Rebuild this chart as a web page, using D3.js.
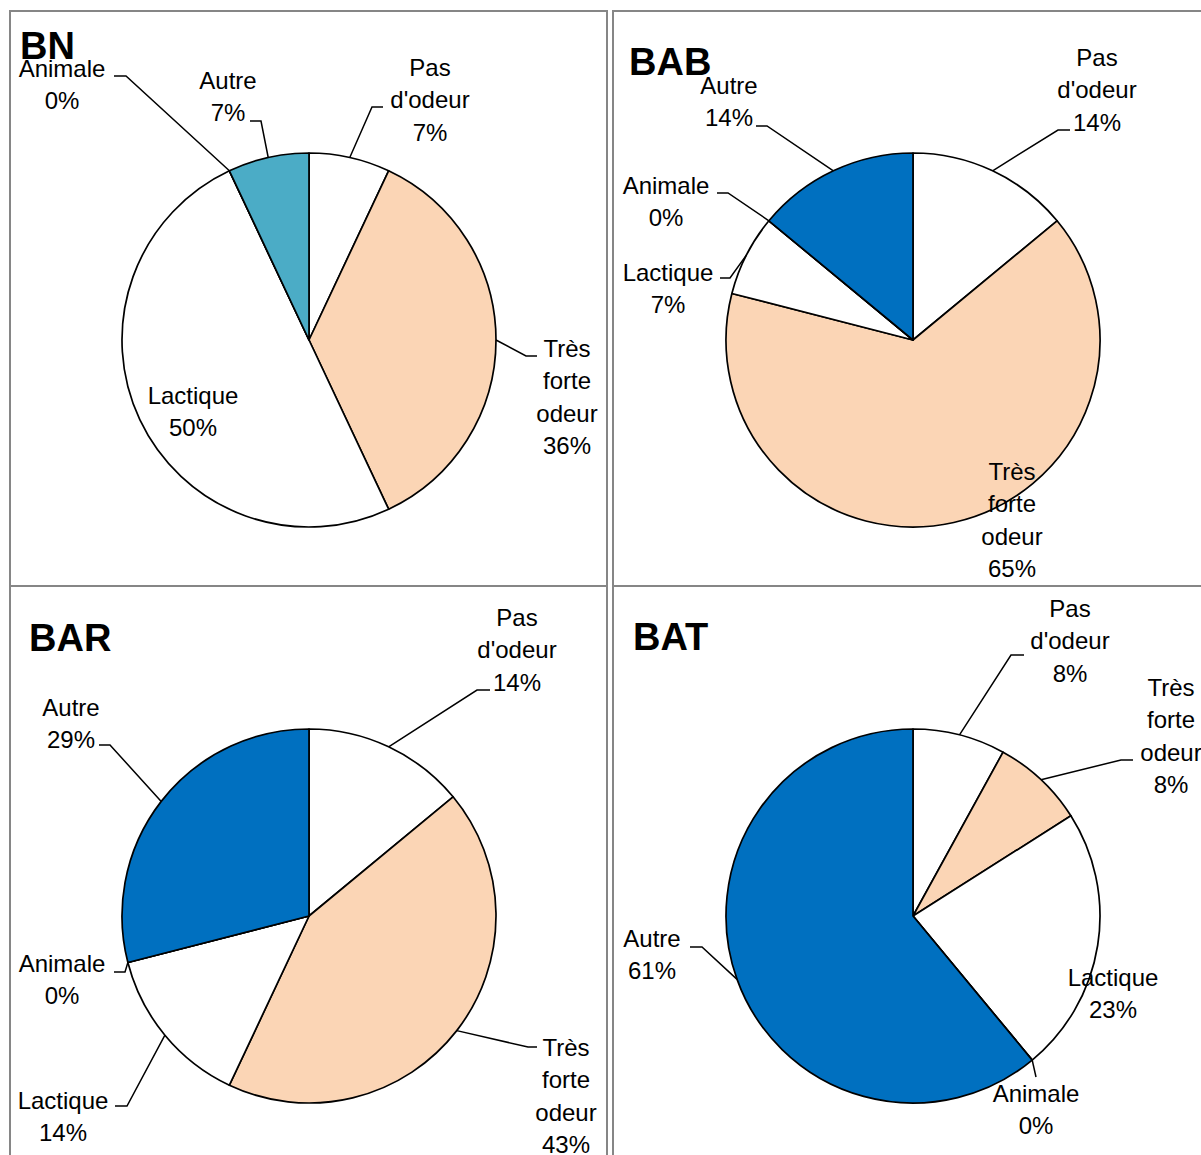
<!DOCTYPE html>
<html><head><meta charset="utf-8">
<script src="https://cdn.jsdelivr.net/npm/d3@7"></script>
<style>html,body{margin:0;padding:0;background:#fff;} svg{display:block;}</style>
</head><body>
<script>
// ---------- data ----------
const chartNames = ["BN", "BAB", "BAR", "BAT"];
const categories = ["Pas d'odeur", "Très forte odeur", "Lactique", "Animale", "Autre"];
const categoryLines = [["Pas", "d'odeur"], ["Très", "forte", "odeur"], ["Lactique"], ["Animale"], ["Autre"]];
const valuesBN  = [7, 36, 50, 0, 7];
const valuesBAB = [14, 65, 7, 0, 14];
const valuesBAR = [14, 43, 14, 0, 29];
const valuesBAT = [8, 8, 23, 0, 61];
const seriesValues = [valuesBN, valuesBAB, valuesBAR, valuesBAT];

// ---------- styles ----------
const baseColors = ["#FFFFFF", "#FBD5B5", "#FFFFFF", "#FFFFFF", null];
const autreColors = ["#4BACC6", "#0070C0", "#0070C0", "#0070C0"];

// ---------- layout (positions of panels, titles, label placements relative to pie centre) ----------
const R = 187;
const lineGap = 32.5;
const panels = [
  {cx: 309, cy: 340, rect: [10, 11, 597, 575], title: [20, 59]},
  {cx: 913, cy: 340, rect: [613, 11, 600, 575], title: [629, 75]},
  {cx: 309, cy: 916, rect: [10, 586, 597, 600], title: [29, 651]},
  {cx: 913, cy: 916, rect: [613, 586, 600, 600], title: [633, 650]}
];
// [textCenterX, firstLineCenterY, elbow, stubEnd]
const labelLayouts = [
  [ [121, -273, [63, -233], [74, -233]],
    [258, 8, [217, 16], [228, 16]],
    [-116, 55, null, null],
    [-247, -272, [-183, -264], [-195, -264]],
    [-81, -260, [-48, -219], [-59, -219]] ],
  [ [184, -283, [145, -210], [157, -210]],
    [99, 131, null, null],
    [-245, -68, [-183, -62], [-193, -62]],
    [-247, -155, [-185, -147], [-196, -147]],
    [-184, -255, [-146, -214], [-157, -214]] ],
  [ [208, -299, [168, -226], [181, -226]],
    [257, 131, [219, 131], [228, 131]],
    [-246, 184, [-182, 190], [-194, 190]],
    [-247, 47, [-184, 56], [-195, 56]],
    [-238, -209, [-199, -171], [-210, -171]] ],
  [ [157, -308, [98, -261], [111, -261]],
    [258, -229, [208, -156], [220, -156]],
    [200, 61, null, null],
    [123, 177, [123, 161], [123, 161]],
    [-261, 22, [-211, 31], [-223, 31]] ]
];

const W = 1201, H = 1155;
const svg = d3.select("body").append("svg").attr("width", W).attr("height", H);

const pie = d3.pie().sort(null).value(d => d);
const arc = d3.arc().innerRadius(0).outerRadius(R);

chartNames.forEach((name, ci) => {
  const p = panels[ci];
  // panel border
  svg.append("rect")
    .attr("x", p.rect[0]).attr("y", p.rect[1])
    .attr("width", p.rect[2]).attr("height", p.rect[3])
    .attr("fill", "none").attr("stroke", "#868686").attr("stroke-width", 2);

  const g = svg.append("g").attr("transform", `translate(${p.cx},${p.cy})`);
  const arcs = pie(seriesValues[ci]);
  arcs.forEach((a, i) => a.i = i);

  g.selectAll("path.slice").data(arcs).enter().append("path")
    .attr("class", "slice")
    .attr("d", arc)
    .attr("fill", d => d.i === 4 ? autreColors[ci] : baseColors[d.i])
    .attr("stroke", "#000").attr("stroke-width", 1.7).attr("stroke-linejoin", "round");

  // leader lines
  arcs.forEach((a, i) => {
    const L = labelLayouts[ci][i];
    if (!L[2]) return;
    const mid = (a.startAngle + a.endAngle) / 2;
    const px = R * Math.sin(mid), py = -R * Math.cos(mid);
    const pts = [[px, py], L[2], L[3]];
    g.append("path")
      .attr("d", d3.line()(pts))
      .attr("fill", "none").attr("stroke", "#000").attr("stroke-width", 1.5);
  });

  // labels
  arcs.forEach((a, i) => {
    const L = labelLayouts[ci][i];
    const lines = categoryLines[i].concat([seriesValues[ci][i] + "%"]);
    const t = g.append("text")
      .attr("text-anchor", "middle")
      .attr("font-family", "'Liberation Sans', Arial, sans-serif")
      .attr("font-size", 24)
      .attr("fill", "#000");
    lines.forEach((ln, k) => {
      t.append("tspan").attr("x", L[0]).attr("y", L[1] + k * lineGap + 8.5).text(ln);
    });
  });

  // title
  svg.append("text")
    .attr("x", p.title[0]).attr("y", p.title[1])
    .attr("font-family", "'Liberation Sans', Arial, sans-serif")
    .attr("font-weight", "bold")
    .attr("font-size", 38)
    .attr("fill", "#000")
    .text(name);
});
</script>
</body></html>
